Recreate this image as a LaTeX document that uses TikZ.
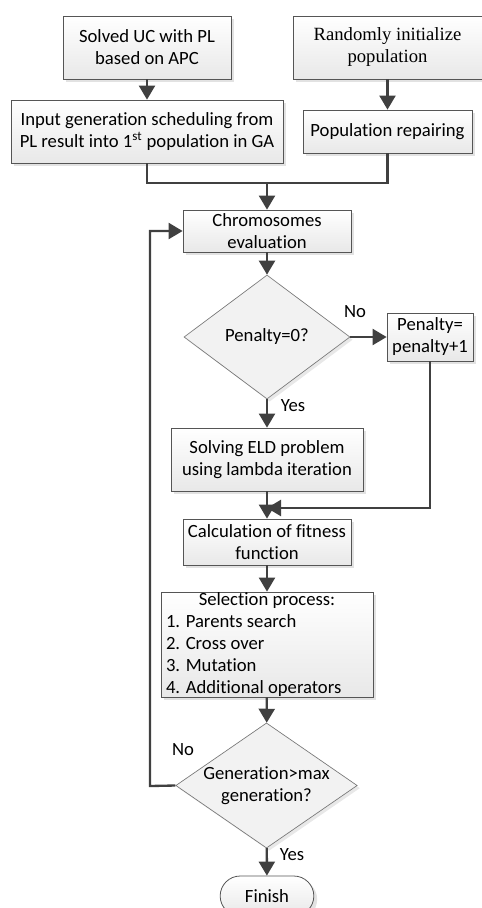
\documentclass[tikz,border=0pt]{standalone}
\usepackage{fontspec}
\setmainfont{Carlito}[Ligatures=NoCommon]
\newfontfamily\timesfont{Liberation Serif}
\usepackage{tikz}
\usetikzlibrary{arrows.meta,shapes.geometric,shapes.misc,shadows}

\definecolor{boxgray}{RGB}{85,85,85}
\definecolor{linegray}{RGB}{64,64,64}

\tikzset{
  box/.style={draw=boxgray, line width=0.6pt, top color=white, bottom color=gray!18,
    align=center, inner sep=2pt, font=\fontsize{14}{16.5}\selectfont,
    drop shadow={shadow xshift=2.5pt, shadow yshift=-2.5pt, fill=gray!45, opacity=0.5}},
  decision/.style={diamond, draw=boxgray!80, line width=0.5pt, fill=gray!10, inner sep=0pt,
    align=center, font=\fontsize{14}{16.5}\selectfont,
    drop shadow={shadow xshift=2pt, shadow yshift=-2pt, fill=gray!45, opacity=0.4}},
  flow/.style={draw=linegray, line width=1.75pt, -{Triangle[length=10.5pt,width=12pt]}},
  link/.style={draw=linegray, line width=1.75pt},
  answer/.style={font=\fontsize{14}{16.5}\selectfont, inner sep=0.75pt}
}

\begin{document}
\begin{tikzpicture}[x=0.75pt,y=0.75pt,yscale=-1,xscale=1]
\useasboundingbox (0,0) rectangle (482,908);

%Shape: Rectangle [id:solved]
\node[box, minimum width=126pt, minimum height=47.25pt] (solved) at (147,47.5) {Solved UC with PL\\based on APC};
%Shape: Rectangle [id:random]
\node[box, minimum width=141.75pt, minimum height=47.25pt, font=\timesfont\fontsize{14}{16.5}\selectfont] (random) at (387.5,47.5) {Randomly initialize\\population};
%Shape: Rectangle [id:input]
\node[box, minimum width=204pt, minimum height=47.25pt] (input) at (147,131.5) {Input generation scheduling from\\PL result into 1\textsuperscript{st} population in GA};
%Shape: Rectangle [id:repair]
\node[box, minimum width=126.75pt, minimum height=32.25pt] (repair) at (387.5,131.5) {Population repairing};
%Shape: Rectangle [id:chrom]
\node[box, minimum width=126pt, minimum height=31.5pt] (chrom) at (267,231) {Chromosomes\\evaluation};
%Shape: Diamond [id:pen]
\node[decision, minimum width=124.5pt, minimum height=93pt, shape aspect=1.34] (pen) at (267,337) {Penalty=0?};
%Shape: Rectangle [id:penadd]
\node[box, minimum width=64.5pt, minimum height=36pt] (penadd) at (430,337) {Penalty=\\penalty+1};
%Shape: Rectangle [id:eld]
\node[box, minimum width=144pt, minimum height=47.25pt] (eld) at (267,459.5) {Solving ELD problem\\using lambda iteration};
%Shape: Rectangle [id:fit]
\node[box, minimum width=126pt, minimum height=34.5pt] (fit) at (267,542) {Calculation of fitness\\function};
%Shape: Rectangle [id:sel]
\node[box, minimum width=159pt, minimum height=78.75pt, align=left, inner xsep=3.75pt, inner ysep=0pt] (sel) at (267,644.5) {\makebox[151.5pt]{Selection process:}\\1. Parents search\\2. Cross over\\3. Mutation\\4. Additional operators};
%Shape: Diamond [id:gen]
\node[decision, minimum width=135.75pt, minimum height=93.75pt, shape aspect=1.45] (gen) at (266.5,785.5) {Generation>max\\generation?};
%Shape: Rounded Rectangle [id:finish]
\node[box, rounded rectangle, minimum width=74.25pt, minimum height=30pt] (finish) at (267,896) {Finish};

% Text Node
\node[answer] (nopen) at (355,312) {No};
% Text Node
\node[answer] (yespen) at (293,406) {Yes};
% Text Node
\node[answer] (nogen) at (183,750) {No};
% Text Node
\node[answer] (yesgen) at (292,855) {Yes};

\coordinate (merge) at (267,183);
\coordinate (join) at (267,508);
\coordinate (back) at (150,786);

%Straight Lines
\draw[flow] (solved) -- (input);
\draw[flow] (random) -- (repair);
\draw[link] (input.south) |- (merge) -| (repair.south);
\draw[flow] (merge) -- (chrom);
\draw[flow] (chrom) -- (pen);
\draw[flow] (pen) -- (penadd);
\draw[flow] (pen) -- (eld);
\draw[flow] (penadd.south) |- (join);
\draw[flow] (eld) -- (fit);
\draw[flow] (fit) -- (sel);
\draw[flow] (sel) -- (gen);
\draw[flow] (gen) -- (finish);
\draw[flow] (gen.west) -- (back) |- (chrom.west);

\end{tikzpicture}
\end{document}
